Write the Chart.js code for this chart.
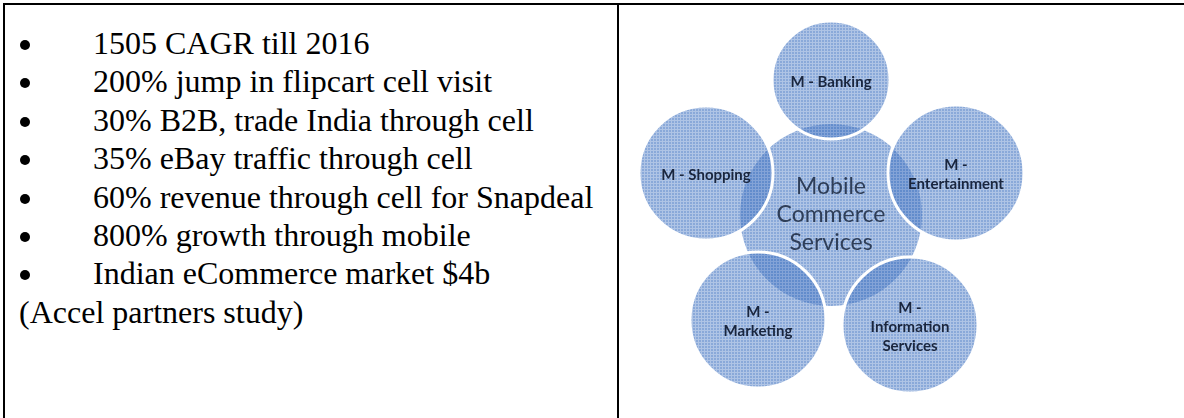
<!DOCTYPE html>
<html>
<head>
<meta charset="utf-8">
<script src="https://cdn.jsdelivr.net/npm/chart.js@4"></script>
<style>
  html, body { margin: 0; padding: 0; background: #fff; }
  #page { position: relative; width: 1184px; height: 418px; overflow: hidden; }
  .rule { position: absolute; background: #000; }
  #notes {
    position: absolute; left: 0; top: 24px; margin: 0; padding: 0; list-style: none;
    font-family: "Liberation Serif", "Times New Roman", serif;
    font-size: 32px; line-height: 38.4px; color: #000;
  }
  #notes li { position: relative; padding-left: 93px; white-space: nowrap; }
  #notes li.bullet::before {
    content: ""; position: absolute; left: 20px; top: 16px;
    width: 10px; height: 10px; border-radius: 50%; background: #000;
  }
  #notes li.source { padding-left: 19px; }
  #diagram { position: absolute; left: 620px; top: 6px; }
</style>
</head>
<body>
<div id="page">
  <div class="rule" style="left:3px; top:3px; width:1181px; height:2px;"></div>
  <div class="rule" style="left:3px; top:3px; width:2px; height:415px;"></div>
  <div class="rule" style="left:617px; top:3px; width:2px; height:415px;"></div>
  <ul id="notes"></ul>
  <canvas id="diagram" width="560" height="412"></canvas>
</div>
<script>
// left cell text
const bulletLines = [
  "1505 CAGR till 2016",
  "200% jump in flipcart cell visit",
  "30% B2B, trade India through cell",
  "35% eBay traffic through cell",
  "60% revenue through cell for Snapdeal",
  "800% growth through mobile",
  "Indian eCommerce market $4b",
];
const sourceNote = "(Accel partners study)";

// diagram: hub in the middle, services around it (units = px from hub centre, y up)
const hubLines = ["Mobile", "Commerce", "Services"];
const hubRadius = 91;
const serviceNames = [
  ["M - Banking"],
  ["M -", "Entertainment"],
  ["M -", "Information", "Services"],
  ["M -", "Marketing"],
  ["M - Shopping"],
];
const serviceX = [0, 125, 79, -73, -125];
const serviceY = [135, 42, -110, -105, 42];
const serviceRadius = [59, 68, 68, 68, 67];

const notes = document.getElementById("notes");
bulletLines.forEach((line) => {
  const li = document.createElement("li");
  li.className = "bullet";
  li.textContent = line;
  notes.appendChild(li);
});
const src = document.createElement("li");
src.className = "source";
src.textContent = sourceNote;
notes.appendChild(src);

// small crosshatch tile, semi transparent so overlaps come out darker
const makePattern = (ctx) => {
  const tile = document.createElement("canvas");
  tile.width = 3;
  tile.height = 3;
  const c = tile.getContext("2d");
  c.fillStyle = "rgba(78, 124, 198, 0.66)";
  c.fillRect(1, 1, 2, 2);
  c.fillStyle = "rgba(78, 124, 198, 0.45)";
  c.fillRect(0, 0, 3, 1);
  c.fillRect(0, 1, 1, 2);
  return ctx.createPattern(tile, "repeat");
};

const labelPlugin = {
  id: "circleLabels",
  afterDatasetsDraw(chart) {
    const ctx = chart.ctx;
    ctx.save();
    ctx.textAlign = "center";
    ctx.textBaseline = "middle";
    const hub = chart.getDatasetMeta(1).data[0];
    ctx.font = "23px Lato";
    ctx.fillStyle = "#2f3e58";
    hubLines.forEach((t, i) => {
      ctx.fillText(t, hub.x, hub.y + (i - (hubLines.length - 1) / 2) * 28);
    });
    ctx.font = "bold 15px Lato";
    ctx.fillStyle = "#1a263e";
    chart.getDatasetMeta(0).data.forEach((pt, k) => {
      const lines = serviceNames[k];
      lines.forEach((t, i) => {
        ctx.fillText(t, pt.x, pt.y + 2 + (i - (lines.length - 1) / 2) * 19);
      });
    });
    ctx.restore();
  },
};

const canvas = document.getElementById("diagram");
const fill = makePattern(canvas.getContext("2d"));

const serviceData = serviceX.map((x, i) => ({ x: x, y: serviceY[i], r: serviceRadius[i] }));

// eslint-disable-next-line no-undef
new Chart(canvas, {
  type: "bubble",
  data: {
    datasets: [
      {
        label: "Services",
        data: serviceData,
        backgroundColor: fill,
        borderColor: "#ffffff",
        borderWidth: 3,
        clip: false,
      },
      {
        label: "Mobile Commerce Services",
        data: [{ x: 0, y: 0, r: hubRadius }],
        backgroundColor: fill,
        borderWidth: 0,
        clip: false,
      },
    ],
  },
  options: {
    responsive: false,
    animation: false,
    events: [],
    layout: { padding: 0, autoPadding: false },
    plugins: { legend: { display: false }, tooltip: { enabled: false } },
    scales: {
      x: { type: "linear", display: false, min: -211, max: 349 },
      y: { type: "linear", display: false, min: -203, max: 209 },
    },
  },
  plugins: [labelPlugin],
});
</script>
</body>
</html>
